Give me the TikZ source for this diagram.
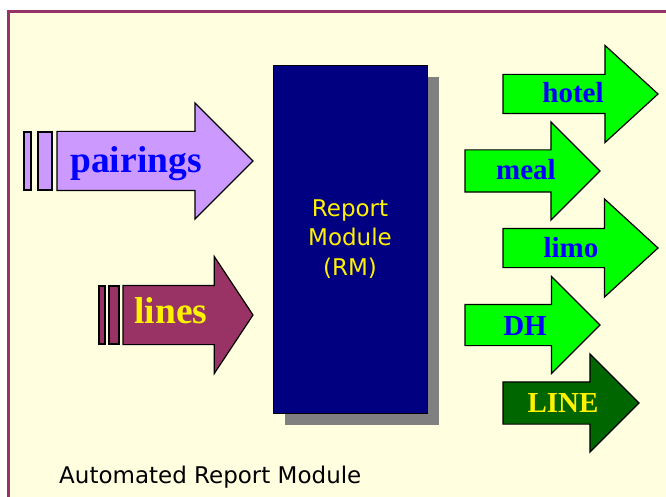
\documentclass[tikz,border=0pt]{standalone}
\usepackage{fontspec}
\setmainfont{Liberation Serif}
\newfontfamily\labelsans{DejaVu Sans}
\usetikzlibrary{shapes.arrows,shadows,positioning}
\definecolor{paper}{HTML}{FFFFE0}
\definecolor{frame}{HTML}{993366}
\definecolor{lilac}{HTML}{CC99FF}
\definecolor{plum}{HTML}{993366}
\definecolor{navy}{HTML}{000080}
\definecolor{lime}{HTML}{00FF00}
\definecolor{forest}{HTML}{006600}
\tikzset
{
    feed/.style     = {single arrow, draw=black, line width=1.2pt, inner xsep=0pt, outer sep=0pt, anchor=tail},
    feedsize/.style n args = {3}{minimum height=#1, minimum width=#2, inner ysep=#3/2, single arrow head extend=#2/2-#3/2},
    bar/.style      = {rectangle, draw=black, line width=1.2pt, inner sep=0pt, outer sep=0pt},
    bigtext/.style  = {font=\bfseries\fontsize{37.5}{37.5}\selectfont, anchor=base, inner sep=0pt},
    outtext/.style  = {font=\bfseries\fontsize{29}{29}\selectfont, anchor=base, inner sep=0pt},
    module/.style   = {rectangle, draw=black, line width=0.8pt, fill=navy, text=yellow, align=center,
                       minimum width=154pt, minimum height=348pt, font=\labelsans\fontsize{23}{29.5}\selectfont,
                       drop shadow={shadow xshift=12pt, shadow yshift=-12pt, fill=gray, opacity=1}},
    caption/.style  = {font=\labelsans\fontsize{23}{26}\selectfont, anchor=base west, inner sep=0pt}
}
\begin{document}
\begin{tikzpicture}[x=1pt, y=-1pt]
    \useasboundingbox (0,0) rectangle (666,497);
    \fill [paper] (8,12) rectangle (680,510);
    \draw [frame, line width=3pt] (8,510) -- (8,12) -- (680,12);

    % the module
    \node [module] (rm) at (350,239) {Report\\Module\\(RM)};

    % inputs
    \node [feed, fill=lilac, feedsize={196pt}{115pt}{58pt}] (pairings) at (57,161) {};
    \node [bar, fill=lilac, minimum width=14pt, minimum height=58pt, left=5pt of pairings.tail] (pbar2) {};
    \node [bar, fill=lilac, minimum width=7pt, minimum height=58pt, left=7pt of pbar2] (pbar1) {};
    \node [bigtext, text=blue] (pairings-txt) at (136,173) {pairings};

    \node [feed, fill=plum, single arrow tip angle=113, feedsize={130pt}{116pt}{58pt}] (lines) at (123,315) {};
    \node [bar, fill=plum, minimum width=10pt, minimum height=58pt, left=4pt of lines.tail] (lbar2) {};
    \node [bar, fill=plum, minimum width=6pt, minimum height=58pt, left=4pt of lbar2] (lbar1) {};
    \node [bigtext, text=yellow] (lines-txt) at (171,323) {lines};

    % outputs
    \node [feed, fill=lime, single arrow tip angle=85, feedsize={155pt}{96pt}{38pt}] (hotel) at (503,94) {};
    \node [outtext, text=blue] (hotel-txt) at (573,103) {hotel};

    \node [feed, fill=lime, feedsize={135pt}{97pt}{41pt}] (meal) at (465,171) {};
    \node [outtext, text=blue] (meal-txt) at (526,179) {meal};

    \node [feed, fill=lime, single arrow tip angle=85, feedsize={155pt}{97pt}{38pt}] (limo) at (503,248) {};
    \node [outtext, text=blue] (limo-txt) at (571,257) {limo};

    \node [feed, fill=lime, feedsize={135pt}{96pt}{40pt}] (dh) at (465,325) {};
    \node [outtext, text=blue] (dh-txt) at (525,335) {DH};

    \node [feed, fill=forest, feedsize={136pt}{97pt}{41pt}] (line) at (503,403) {};
    \node [outtext, text=yellow] (line-txt) at (563,412) {LINE};

    \node [caption] (title) at (59,483) {Automated Report Module};
\end{tikzpicture}
\end{document}
